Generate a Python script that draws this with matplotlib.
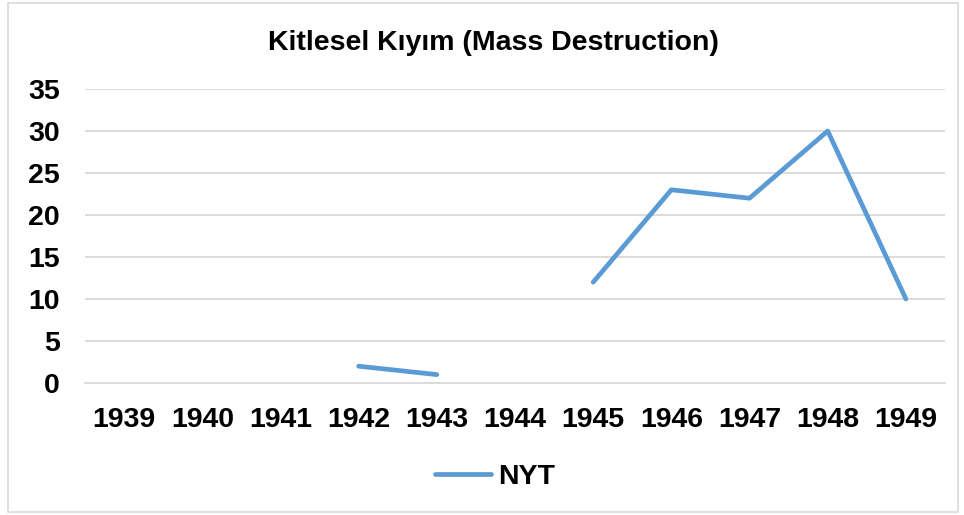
import numpy as np
import matplotlib.pyplot as plt
from matplotlib.patches import Rectangle

YEARS = ['1939', '1940', '1941', '1942', '1943', '1944',
         '1945', '1946', '1947', '1948', '1949']
NYT = [np.nan, np.nan, np.nan, 2, 1, np.nan, 12, 23, 22, 30, 10]
YTICKS = [0, 5, 10, 15, 20, 25, 30, 35]

plt.rcParams['font.family'] = ['Liberation Sans', 'DejaVu Sans']
plt.rcParams['font.weight'] = 'bold'
FS = 20.5

W, H = 964, 515
fig = plt.figure(figsize=(W / 100, H / 100), dpi=100)

# chart border
fig.patches.append(Rectangle((8 / W, 3 / H), 950 / W, 509 / H, transform=fig.transFigure,
                             fill=False, edgecolor='#D9D9D9', linewidth=1.2))

ax = fig.add_axes([85 / W, 1 - 383 / H, (945 - 85) / W, (383 - 89) / H])
x = np.arange(len(YEARS))
line, = ax.plot(x, NYT, color='#5B9BD5', linewidth=3.4, solid_capstyle='round',
                solid_joinstyle='round', label='NYT')

ax.set_xlim(-0.5, len(YEARS) - 0.5)
ax.set_ylim(0, 35)
ax.set_yticks(YTICKS)
ax.set_xticks(x, YEARS)
ax.grid(axis='y', color='#D9D9D9', linewidth=1.3)
ax.set_axisbelow(True)
for s in ['top', 'right', 'left']:
    ax.spines[s].set_visible(False)
ax.spines['bottom'].set_color('#D9D9D9')
ax.spines['bottom'].set_linewidth(1.3)
ax.tick_params(length=0, labelsize=FS)
ax.tick_params(axis='y', pad=18)
ax.tick_params(axis='x', pad=17)

fig.text(493 / W, 1 - 43 / H, 'Kitlesel Kıyım (Mass Destruction)', ha='center', va='center',
         fontsize=FS, fontweight='bold')

fig.legend(handles=[line], loc='center', bbox_to_anchor=(495 / W, 1 - 477 / H),
           frameon=False, fontsize=FS, handlelength=1.95, handletextpad=0.25)

fig.savefig('out.png', dpi=100)
